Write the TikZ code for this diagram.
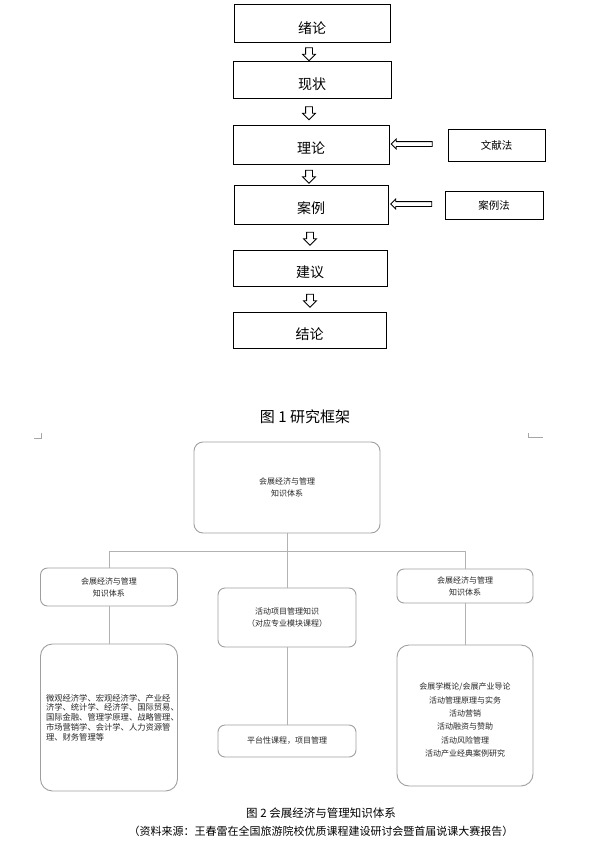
\documentclass[tikz,border=0pt]{standalone}
\usepackage{fontspec}
\setmainfont{Liberation Sans}
\newfontfamily\cjk{Noto Sans CJK SC}
\usetikzlibrary{shapes.arrows}
\newcommand{\lowtext}[2]{\raisebox{-#1}[\height][\depth]{#2}}
\begin{document}
\begin{tikzpicture}[x=1pt,y=-1pt,
  topbox/.style={draw=black, line width=0.9pt, inner sep=0pt, font=\cjk\fontsize{14}{16}\selectfont},
  sidebox/.style={draw=black, line width=0.9pt, inner sep=0pt, font=\cjk\fontsize{10.5}{12}\selectfont},
  downarr/.style={single arrow, draw=black, line width=0.8pt, rotate=-90, minimum height=13pt, inner xsep=0pt, inner ysep=3pt, single arrow head extend=3pt},
  leftarr/.style={single arrow, draw=black, line width=0.8pt, rotate=180, minimum height=41pt, inner xsep=0pt, inner ysep=2pt, single arrow head extend=2.5pt},
  kbox/.style={draw=gray!75, line width=0.9pt, rounded corners=7pt, inner sep=0pt, font=\cjk\fontsize{8}{12}\selectfont, align=center, text=black!85},
  ktext/.style={inner sep=0pt, font=\cjk\fontsize{8}{13.3}\selectfont, align=center, text=black!85},
  kline/.style={draw=gray!60, line width=1pt},
  captext/.style={inner sep=0pt, font=\cjk\fontsize{15}{17}\selectfont},
  cornermark/.style={draw=gray!70, line width=0.8pt},
]
\useasboundingbox (0,0) rectangle (594,847);

% ---- Figure 1 ----
\node[topbox, minimum width=156pt, minimum height=38pt] (b1) at (312,23) {\lowtext{5pt}{绪论}};
\node[topbox, minimum width=158pt, minimum height=37pt] (b2) at (312,79.5) {\lowtext{5pt}{现状}};
\node[topbox, minimum width=156pt, minimum height=39pt] (b3) at (311,144.5) {\lowtext{4pt}{理论}};
\node[topbox, minimum width=154pt, minimum height=39pt] (b4) at (311,204.5) {\lowtext{4pt}{案例}};
\node[topbox, minimum width=154pt, minimum height=36pt] (b5) at (310,268) {\lowtext{4pt}{建议}};
\node[topbox, minimum width=153pt, minimum height=36pt] (b6) at (309.5,330) {\lowtext{4pt}{结论}};

\node[sidebox, minimum width=97pt, minimum height=32pt] (m1) at (496.5,145) {文献法};
\node[sidebox, minimum width=98pt, minimum height=28pt] (m2) at (494,205) {案例法};

\node[downarr] (a12) at (309,52.5) {};
\node[downarr] (a23) at (309,111.5) {};
\node[downarr] (a34) at (309,175) {};
\node[downarr] (a45) at (310,237) {};
\node[downarr] (a56) at (310,299) {};

\node[leftarr] (am1) at (413,144) {};
\node[leftarr] (am2) at (412.5,204) {};

\node[captext] (cap1) at (305,417) {图 1 研究框架};

% corner marks
\coordinate (cl1) at (34,438); \coordinate (cl2) at (41,438); \coordinate (cl3) at (41,433);
\coordinate (cr1) at (543,437); \coordinate (cr2) at (528,437); \coordinate (cr3) at (528,433);
\draw[cornermark] (cl1) -- (cl2) -- (cl3);
\draw[cornermark] (cr1) -- (cr2) -- (cr3);

% ---- Figure 2 ----
\node[kbox, rounded corners=9pt, minimum width=186pt, minimum height=91pt] (top) at (287,487.5) {会展经济与管理\\知识体系};
\node[kbox, minimum width=137pt, minimum height=38pt] (l1) at (109,587) {会展经济与管理\\知识体系};
\node[kbox, minimum width=138pt, minimum height=59pt] (c1) at (287,617.5) {活动项目管理知识\\（对应专业模块课程）};
\node[kbox, minimum width=136pt, minimum height=34pt] (r1) at (465,586) {会展经济与管理\\知识体系};
\node[kbox, rounded corners=12pt, minimum width=137pt, minimum height=147pt, align=left, text width=126pt, font=\cjk\fontsize{8.3}{9.8}\selectfont] (l2) at (109,717.5) {微观经济学、宏观经济学、产业经\\济学、统计学、经济学、国际贸易、\\国际金融、管理学原理、战略管理、\\市场营销学、会计学、人力资源管\\理、财务管理等};
\node[kbox, minimum width=138pt, minimum height=32pt] (c2) at (287,741) {平台性课程，项目管理};
\node[kbox, rounded corners=12pt, minimum width=136pt, minimum height=141pt] (r2) at (465,715.5) {};
\node[ktext] (r2t) at (465,720) {会展学概论/会展产业导论\\活动管理原理与实务\\活动营销\\活动融资与赞助\\活动风险管理\\活动产业经典案例研究};

\coordinate (hj) at (287,551);
\coordinate (hl) at (109,551);
\coordinate (hr) at (465,551);
\draw[kline] (top.south) -- (hj);
\draw[kline] (hl) -- (hr);
\draw[kline] (hl) -- (l1.north);
\draw[kline] (hj) -- (c1.north);
\draw[kline] (hr) -- (r1.north);
\draw[kline] (l1.south) -- (l2.north);
\draw[kline] (c1.south) -- (c2.north);
\draw[kline] (r1.south) -- (r2.north);

\node[inner sep=0pt, font=\cjk\fontsize{11.5}{13}\selectfont] (cap2) at (321,813) {图 2 会展经济与管理知识体系};
\node[inner sep=0pt, font=\cjk\fontsize{11}{13}\selectfont] (src) at (321,831) {（资料来源：王春雷在全国旅游院校优质课程建设研讨会暨首届说课大赛报告）};
\end{tikzpicture}
\end{document}
